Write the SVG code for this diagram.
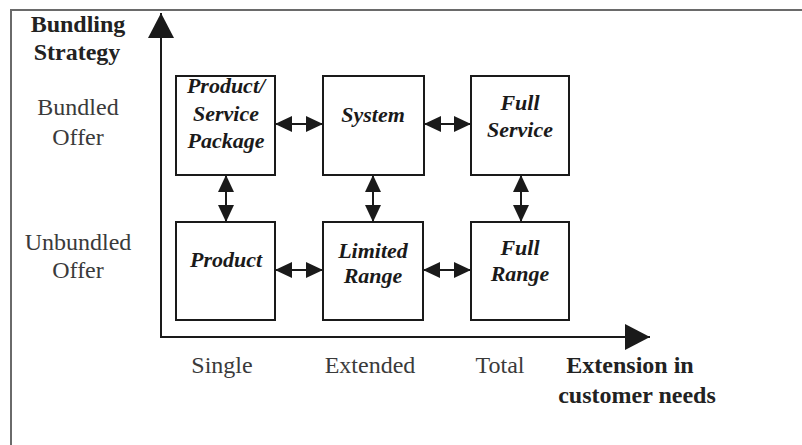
<svg xmlns="http://www.w3.org/2000/svg" width="802" height="445" viewBox="0 0 802 445">
<style>
.frame{fill:none;stroke:#6a6a6a;stroke-width:2}
.axis{fill:none;stroke:#1a1a1a;stroke-width:2}
.box{fill:#fff;stroke:#1a1a1a;stroke-width:2}
.link{fill:none;stroke:#1a1a1a;stroke-width:2}
.nt{font-family:"Liberation Serif","Times New Roman",serif;font-size:22px;font-weight:bold;font-style:italic;fill:#1a1a1a;text-anchor:middle}
.lbl{font-family:"Liberation Serif","Times New Roman",serif;font-size:24px;fill:#3a3a3a;text-anchor:middle}
.bold{font-family:"Liberation Serif","Times New Roman",serif;font-size:24px;font-weight:bold;fill:#222;text-anchor:middle}
</style>
<defs>
<marker id="ah" viewBox="0 0 17 16" refX="17" refY="8" markerWidth="17" markerHeight="16" markerUnits="userSpaceOnUse" orient="auto-start-reverse">
<path d="M0,0 L17,8 L0,16 z" fill="#1a1a1a"/>
</marker>
<marker id="big" viewBox="0 0 25 26" refX="25" refY="13" markerWidth="25" markerHeight="26" markerUnits="userSpaceOnUse" orient="auto">
<path d="M0,0 L25,13 L0,26 z" fill="#1a1a1a"/>
</marker>
</defs>
<rect width="802" height="445" fill="#fff"/>
<path class="frame" d="M11,445 L11,10 L802,10"/>
<g id="axes">
<line class="axis" x1="161" y1="337" x2="161" y2="13" marker-end="url(#big)"/>
<line class="axis" x1="160" y1="337" x2="650" y2="337" marker-end="url(#big)"/>
</g>
<g id="axis-labels">
<text class="bold" x="78" y="32">Bundling</text>
<text class="bold" x="77" y="60">Strategy</text>
<text class="lbl" x="78" y="115">Bundled</text>
<text class="lbl" x="78" y="145">Offer</text>
<text class="lbl" x="78" y="250">Unbundled</text>
<text class="lbl" x="78" y="278">Offer</text>
<text class="lbl" x="222" y="373">Single</text>
<text class="lbl" x="370" y="373">Extended</text>
<text class="lbl" x="500" y="373">Total</text>
<text class="bold" x="630" y="373">Extension in</text>
<text class="bold" x="637" y="403">customer needs</text>
</g>
<g id="connectors">
<line class="link" x1="275" y1="124" x2="323" y2="124" marker-start="url(#ah)" marker-end="url(#ah)"/>
<line class="link" x1="424" y1="124" x2="471" y2="124" marker-start="url(#ah)" marker-end="url(#ah)"/>
<line class="link" x1="275" y1="270" x2="323" y2="270" marker-start="url(#ah)" marker-end="url(#ah)"/>
<line class="link" x1="423" y1="270" x2="471" y2="270" marker-start="url(#ah)" marker-end="url(#ah)"/>
<line class="link" x1="226" y1="175" x2="226" y2="222" marker-start="url(#ah)" marker-end="url(#ah)"/>
<line class="link" x1="373" y1="175" x2="373" y2="222" marker-start="url(#ah)" marker-end="url(#ah)"/>
<line class="link" x1="521" y1="175" x2="521" y2="222" marker-start="url(#ah)" marker-end="url(#ah)"/>
</g>
<g id="product-service-package">
<rect class="box" x="176" y="76" width="99" height="99"/>
<text class="nt" x="226" y="93">Product/</text>
<text class="nt" x="226" y="121">Service</text>
<text class="nt" x="226" y="148">Package</text>
</g>
<g id="system">
<rect class="box" x="323" y="76" width="101" height="99"/>
<text class="nt" x="373" y="122">System</text>
</g>
<g id="full-service">
<rect class="box" x="471" y="76" width="98" height="99"/>
<text class="nt" x="520" y="110">Full</text>
<text class="nt" x="520" y="137">Service</text>
</g>
<g id="product">
<rect class="box" x="176" y="222" width="99" height="98"/>
<text class="nt" x="226" y="267">Product</text>
</g>
<g id="limited-range">
<rect class="box" x="323" y="222" width="100" height="98"/>
<text class="nt" x="373" y="258">Limited</text>
<text class="nt" x="373" y="283">Range</text>
</g>
<g id="full-range">
<rect class="box" x="471" y="222" width="98" height="98"/>
<text class="nt" x="520" y="255">Full</text>
<text class="nt" x="520" y="281">Range</text>
</g>
</svg>
